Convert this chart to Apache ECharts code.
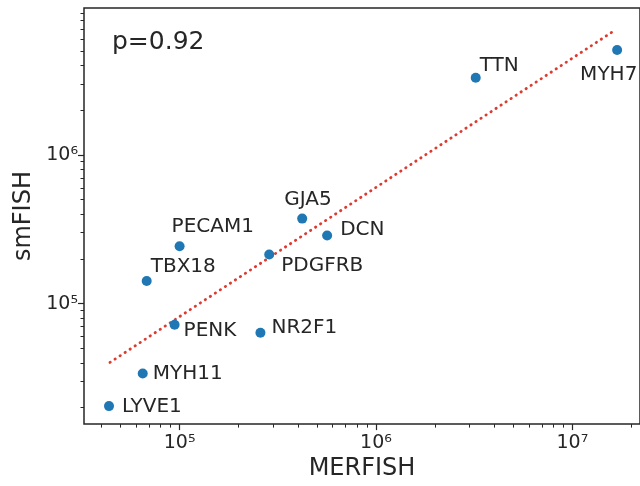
<!DOCTYPE html>
<html>
<head>
<meta charset="utf-8">
<script src="https://cdn.jsdelivr.net/npm/echarts@6/dist/echarts.min.js"></script>
<style>
    html, body { margin: 0; padding: 0; background: #fff; }
    #chart { width: 640px; height: 486px; }
</style>
</head>
<body>
<div id="chart"></div>
<script>
// genes, MERFISH counts (x) and smFISH counts (y)
const genes = ['LYVE1', 'MYH11', 'PENK', 'TBX18', 'NR2F1', 'PDGFRB', 'PECAM1', 'GJA5', 'DCN', 'TTN', 'MYH7'];
const merfish = [4.37e4, 6.49e4, 9.43e4, 6.80e4, 2.58e5, 2.86e5, 1.00e5, 4.21e5, 5.64e5, 3.22e6, 1.69e7];
const smfish = [2.05e4, 3.40e4, 7.21e4, 1.42e5, 6.38e4, 2.14e5, 2.43e5, 3.73e5, 2.87e5, 3.30e6, 5.07e6];

// dotted fit line end points
const fitX = [4.42e4, 1.65e7];
const fitY = [4.03e4, 6.89e6];

// axis ticks
const xMajorTicks = [1e5, 1e6, 1e7];
const yMajorTicks = [1e5, 1e6];
const xMinorTicks = [];
const yMinorTicks = [];
[1e4, 1e5, 1e6, 1e7].forEach(d => {
    for (let k = 2; k <= 9; k++) {
        xMinorTicks.push(k * d);
        yMinorTicks.push(k * d);
    }
});

const corrText = 'p=0.92';

// label placement for each gene: [dx, dy] of the text's left-middle point from the dot
const labelOffset = {
    LYVE1: [13, 1], MYH11: [10, 0], PENK: [9, 6], TBX18: [4, -14], NR2F1: [11, -5],
    PDGFRB: [12, 11], PECAM1: [-8, -19], GJA5: [-18, -19], DCN: [13, -6], TTN: [4, -12], MYH7: [-37, 25]
};

const ink = '#262626';
const font = 'DejaVu Sans';
const sup = { '4': '\u2074', '5': '\u2075', '6': '\u2076', '7': '\u2077' };
const powLabel = v => '10' + sup[String(Math.round(Math.log10(v)))];

const xMin = 3.26e4, xMax = 2.21e7;
const yMin = 1.552e4, yMax = 9.7e6;

const chart = echarts.init(document.getElementById('chart'));

function logAxis(min, max, extra) {
    return Object.assign({
        type: 'log',
        logBase: 10,
        min: min,
        max: max,
        axisLine: { show: false },
        splitLine: { show: false },
        minorTick: { show: false }
    }, extra);
}

chart.setOption({
    animation: false,
    backgroundColor: '#fff',
    grid: {
        left: 84, top: 8, right: -2, bottom: 60,
        show: true,
        borderColor: ink,
        borderWidth: 1.5,
        backgroundColor: 'transparent'
    },
    xAxis: [
        logAxis(xMin, xMax, {
            position: 'bottom',
            name: 'MERFISH',
            nameLocation: 'middle',
            nameGap: 31,
            nameTextStyle: { fontFamily: font, fontSize: 24, color: ink },
            axisTick: { show: true, customValues: xMajorTicks, length: 6, lineStyle: { color: ink, width: 1.2 } },
            axisLabel: { customValues: xMajorTicks, formatter: powLabel, margin: 9, fontFamily: font, fontSize: 19, color: ink }
        }),
        logAxis(xMin, xMax, {
            position: 'bottom',
            axisTick: { show: true, customValues: xMinorTicks, length: 3.5, lineStyle: { color: ink, width: 1 } },
            axisLabel: { show: false }
        })
    ],
    yAxis: [
        logAxis(yMin, yMax, {
            position: 'left',
            name: 'smFISH',
            nameLocation: 'middle',
            nameGap: 46,
            nameTextStyle: { fontFamily: font, fontSize: 24, color: ink },
            axisTick: { show: true, customValues: yMajorTicks, length: 6, lineStyle: { color: ink, width: 1.2 } },
            axisLabel: { customValues: yMajorTicks, formatter: powLabel, margin: 6, fontFamily: font, fontSize: 19, color: ink }
        }),
        logAxis(yMin, yMax, {
            position: 'left',
            axisTick: { show: true, customValues: yMinorTicks, length: 3.5, lineStyle: { color: ink, width: 1 } },
            axisLabel: { show: false }
        })
    ],
    graphic: [{
        type: 'text',
        left: 112,
        top: 30,
        style: { text: corrText, font: '25px "DejaVu Sans"', fill: ink }
    }],
    series: [
        {
            type: 'line',
            xAxisIndex: 0,
            yAxisIndex: 0,
            data: fitX.map((x, i) => [x, fitY[i]]),
            symbol: 'none',
            lineStyle: { color: '#dc3b30', width: 2.8, type: [0.4, 5.6], cap: 'round' },
            z: 1
        },
        {
            type: 'scatter',
            xAxisIndex: 0,
            yAxisIndex: 0,
            symbolSize: 10,
            itemStyle: { color: '#1f77b4', opacity: 1 },
            data: genes.map((g, i) => ({
                name: g,
                value: [merfish[i], smfish[i]],
                label: { offset: labelOffset[g] }
            })),
            label: {
                show: true,
                position: 'inside',
                align: 'left',
                verticalAlign: 'middle',
                formatter: p => p.name,
                fontFamily: font,
                fontSize: 20,
                color: ink,
                opacity: 1
            },
            z: 2
        }
    ]
});
</script>
</body>
</html>
